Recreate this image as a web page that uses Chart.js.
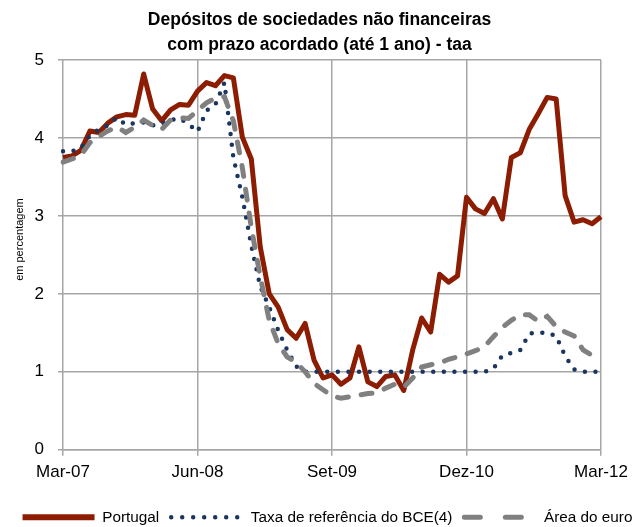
<!DOCTYPE html>
<html>
<head>
<meta charset="utf-8">
<script src="https://cdn.jsdelivr.net/npm/chart.js@4/dist/chart.umd.min.js"></script>
<style>
  html, body { margin: 0; padding: 0; background: #fff; }
  #wrap { width: 639px; height: 527px; position: relative; }
</style>
</head>
<body>
<div id="wrap"><canvas id="myChart" width="639" height="527"></canvas></div>
<script>
// months Mar-07 .. Mar-12
const monthNames = ['Jan','Fev','Mar','Abr','Mai','Jun','Jul','Ago','Set','Out','Nov','Dez'];
const months = [];
for (let y = 7; y <= 12; y++) {
  for (let m = 0; m < 12; m++) {
    if (y === 7 && m < 2) continue;
    if (y === 12 && m > 2) break;
    months.push(monthNames[m] + '-' + String(y).padStart(2, '0'));
  }
}

const portugal = [
  3.75, 3.77, 3.84, 4.09, 4.07, 4.19, 4.27, 4.30, 4.29, 4.82,
  4.37, 4.22, 4.36, 4.43, 4.42, 4.60, 4.71, 4.67, 4.80, 4.77,
  4.01, 3.73, 2.60, 2.00, 1.83, 1.54, 1.43, 1.62, 1.15, 0.92,
  0.96, 0.84, 0.92, 1.32, 0.87, 0.81, 0.94, 0.96, 0.76, 1.28,
  1.69, 1.51, 2.25, 2.15, 2.23, 3.24, 3.09, 3.03, 3.22, 2.96,
  3.75, 3.81, 4.11, 4.31, 4.52, 4.50, 3.26, 2.92, 2.95, 2.90,
  2.99
];
const taxaBCE = [
  3.83, 3.83, 3.87, 4.03, 4.11, 4.16, 4.26, 4.17, 4.19, 4.20,
  4.16, 4.18, 4.23, 4.25, 4.18, 4.08, 4.35, 4.43, 4.71, 3.75,
  3.24, 2.62, 2.09, 1.83, 1.53, 1.28, 1.07, 1.00, 1.00, 1.00,
  1.00, 1.00, 1.00, 1.00, 1.00, 1.00, 1.00, 1.00, 1.00, 1.00,
  1.00, 1.00, 1.00, 1.00, 1.00, 1.00, 1.00, 1.00, 1.04, 1.21,
  1.24, 1.28, 1.49, 1.50, 1.50, 1.46, 1.20, 1.03, 1.00, 1.00,
  1.00
];
const areaEuro = [
  3.69, 3.73, 3.78, 3.94, 4.02, 4.09, 4.14, 4.07, 4.14, 4.23,
  4.16, 4.11, 4.23, 4.26, 4.25, 4.35, 4.45, 4.51, 4.53, 4.22,
  3.62, 2.85, 2.22, 1.66, 1.36, 1.19, 1.12, 1.00, 0.85, 0.77,
  0.69, 0.66, 0.68, 0.70, 0.72, 0.73, 0.79, 0.84, 0.80, 0.92,
  1.06, 1.09, 1.11, 1.16, 1.19, 1.23, 1.27, 1.32, 1.45, 1.57,
  1.66, 1.73, 1.73, 1.65, 1.71, 1.58, 1.51, 1.46, 1.28, 1.21,
  1.26
];
const yTicks = [0, 1, 2, 3, 4, 5];

const FONT = "'Liberation Sans', Arial, sans-serif";
const gridGray = '#a6a6a6';

// nudge the legend a little right and down, like the original
const legendShift = {
  id: 'legendShift',
  afterLayout(chart) {
    const l = chart.legend;
    l.left += 8; l.right += 8;
    l.top += 8; l.bottom += 8;
  }
};

const data = {
  labels: months,
  datasets: [{
    label: 'Portugal',
    data: portugal,
    borderColor: '#8c1d02',
    backgroundColor: '#8c1d02',
    borderWidth: 5,
    pointRadius: 0,
    borderJoinStyle: 'round',
    legendDash: [],
    order: 2
  }, {
    label: 'Taxa de referência do BCE(4)',
    data: taxaBCE,
    borderColor: '#1a3560',
    backgroundColor: '#1a3560',
    borderWidth: 4.5,
    borderDash: [0, 10.6],
    borderCapStyle: 'round',
    pointRadius: 0,
    legendDash: [0, 11],
    order: 1
  }, {
    label: 'Área do euro',
    data: areaEuro,
    borderColor: '#808080',
    backgroundColor: '#808080',
    borderWidth: 5,
    borderDash: [11, 13],
    borderCapStyle: 'round',
    pointRadius: 0,
    legendDash: [16, 25],
    order: 0
  }]
};

var myChart = new Chart(
  document.getElementById('myChart'),
  {
    type: 'line',
    data: data,
    plugins: [legendShift],
    options: {
      responsive: false,
      animation: false,
      events: [],
      layout: { padding: 0 },
      plugins: {
        title: {
          display: true,
          text: ['Depósitos de sociedades não financeiras', 'com prazo acordado (até 1 ano) - taa'],
          color: '#000',
          font: { family: FONT, size: 17.5, weight: 'bold', lineHeight: 1.4 },
          padding: { top: 8, bottom: 3 }
        },
        legend: {
          position: 'bottom',
          labels: {
            color: '#000',
            font: { family: FONT, size: 15.3 },
            boxWidth: 72,
            padding: 12,
            usePointStyle: true,
            pointStyleWidth: 72,
            generateLabels: chart => chart.data.datasets.map((ds, i) => ({
              text: ds.label,
              datasetIndex: i,
              fillStyle: ds.borderColor,
              strokeStyle: ds.borderColor,
              fontColor: '#000',
              lineWidth: i === 0 ? 6 : ds.borderWidth,
              lineDash: ds.legendDash,
              lineCap: ds.borderCapStyle || 'butt',
              pointStyle: 'line',
              hidden: false
            }))
          }
        },
        tooltip: { enabled: false }
      },
      scales: {
        x: {
          afterFit: s => { s.height = 40; },
          ticks: {
            autoSkip: false,
            maxRotation: 0,
            color: '#000',
            font: { family: FONT, size: 17 },
            padding: 6,
            callback: function (v, i) { return i % 15 === 0 ? months[i] : ''; }
          },
          grid: {
            color: ctx => (ctx.index % 15 === 0 ? gridGray : 'rgba(0,0,0,0)'),
            tickLength: 6,
            lineWidth: 1.5
          },
          border: { color: gridGray, width: 1.5 }
        },
        y: {
          min: 0,
          max: 5,
          afterBuildTicks: s => { s.ticks = yTicks.map(v => ({ value: v })); },
          afterFit: s => { s.width = 63; },
          ticks: {
            color: '#000',
            font: { family: FONT, size: 17 },
            padding: 14
          },
          grid: { color: gridGray, tickLength: 5, lineWidth: 1.5 },
          border: { display: false },
          title: {
            display: true,
            text: '\u00a0\u00a0\u00a0\u00a0\u00a0\u00a0\u00a0\u00a0\u00a0\u00a0em percentagem',
            color: '#000',
            font: { family: FONT, size: 11 },
            padding: { top: 13, bottom: 0 }
          }
        },
        y2: {
          position: 'right',
          display: true,
          min: 0,
          max: 5,
          ticks: { display: false },
          grid: { display: false },
          border: { display: false },
          afterFit: s => { s.width = 38; }
        }
      }
    }
  }
);
</script>
</body>
</html>
